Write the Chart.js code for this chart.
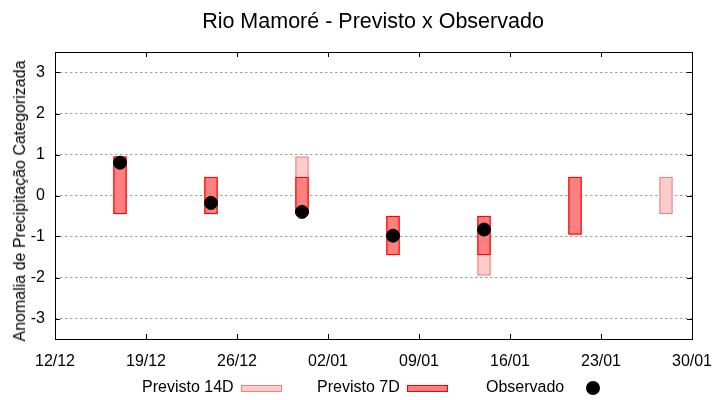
<!DOCTYPE html>
<html>
<head>
<meta charset="utf-8">
<script src="https://cdn.jsdelivr.net/npm/chart.js@4.4.1/dist/chart.umd.min.js"></script>
<style>
  html, body { margin: 0; padding: 0; background: #fff; }
  #wrap { position: relative; width: 720px; height: 400px; font-family: "Liberation Sans", Arial, sans-serif; }
  .title { position: absolute; left: 373px; top: 11px; transform: translateX(-50%); font-size: 21.5px; line-height: 21px; color: #000; white-space: nowrap; }
  .ylab { position: absolute; left: 20px; top: 201px; transform: translate(-50%, -50%) rotate(-90deg); font-size: 16px; line-height: 16px; color: #000; white-space: nowrap; }
  .lg { position: absolute; font-size: 16px; line-height: 16px; color: #000; white-space: nowrap; }
  .box { position: absolute; height: 5px; width: 39px; }
  .dot { position: absolute; width: 14px; height: 14px; border-radius: 50%; background: #000; }
</style>
</head>
<body>
<div id="wrap">
  <canvas id="chart" width="720" height="400"></canvas>
  <div class="title">Rio Mamoré - Previsto x Observado</div>
  <div class="ylab">Anomalia de Precipitação Categorizada</div>
  <span class="lg" style="left:142px; top:379px;">Previsto 14D</span>
  <div class="box" style="left:241px; top:385px; background:#ffcccc; border:1px solid #f08080;"></div>
  <span class="lg" style="left:317px; top:379px;">Previsto 7D</span>
  <div class="box" style="left:407px; top:385px; background:#ff8080; border:1px solid #ff0000;"></div>
  <span class="lg" style="left:486px; top:379px;">Observado</span>
  <div class="dot" style="left:586px; top:381px;"></div>
</div>
<script>
// x = dias desde 12/12
const tickDays = [0, 7, 14, 21, 28, 35, 42, 49];
const tickLabels = ["12/12", "19/12", "26/12", "02/01", "09/01", "16/01", "23/01", "30/01"];
const yTicks = [-3, -2, -1, 0, 1, 2, 3];

const forecastDays = [5, 12, 19, 26, 33, 40, 47];
const prev14Low = [-0.45, -0.45, -0.45, -1.45, -1.95, -0.95, -0.45];
const prev14High = [0.95, 0.45, 0.95, -0.5, -0.5, 0.45, 0.45];
const prev7Low = [-0.45, -0.45, -0.45, -1.45, -1.45, -0.95, null];
const prev7High = [0.95, 0.45, 0.45, -0.5, -0.5, 0.45, null];

const obsDays = [5, 12, 19, 26, 33];
const obsValues = [0.8, -0.18, -0.4, -0.98, -0.83];

const range = (lo, hi) => forecastDays
  .map((d, i) => ({ x: d, y: [lo[i], hi[i]] }))
  .filter(p => p.y[0] !== null);

// moldura + marcas internas (estilo gnuplot)
const frame = {
  id: "frame",
  afterDraw(chart) {
    const { ctx, chartArea: a, scales } = chart;
    ctx.save();
    ctx.strokeStyle = "#000";
    ctx.lineWidth = 1;
    ctx.beginPath();
    tickDays.forEach(d => {
      const x = Math.round(scales.x.getPixelForValue(d)) + 0.5;
      ctx.moveTo(x, a.bottom); ctx.lineTo(x, a.bottom - 5);
      ctx.moveTo(x, a.top); ctx.lineTo(x, a.top + 5);
    });
    yTicks.forEach(v => {
      const y = Math.round(scales.y.getPixelForValue(v)) + 0.5;
      ctx.moveTo(a.left, y); ctx.lineTo(a.left + 5, y);
      ctx.moveTo(a.right, y); ctx.lineTo(a.right - 5, y);
    });
    ctx.stroke();
    ctx.strokeRect(Math.round(a.left) + 0.5, Math.round(a.top) + 0.5,
      Math.round(a.right - a.left), Math.round(a.bottom - a.top));
    ctx.restore();
  }
};

const font = { family: "'Liberation Sans', Arial, sans-serif", size: 16 };

new Chart(document.getElementById("chart"), {
  type: "bar",
  data: {
    datasets: [
      {
        type: "scatter",
        label: "Observado",
        data: obsDays.map((d, i) => ({ x: d, y: obsValues[i] })),
        backgroundColor: "#000",
        borderColor: "#000",
        pointRadius: 6.5,
        borderWidth: 1,
        order: 0
      },
      {
        label: "Previsto 7D",
        data: range(prev7Low, prev7High),
        backgroundColor: "#ff8080",
        borderColor: "#ff0000",
        borderWidth: 1.3,
        borderSkipped: false,
        barThickness: 13,
        grouped: false,
        order: 1
      },
      {
        label: "Previsto 14D",
        data: range(prev14Low, prev14High),
        backgroundColor: "#ffcccc",
        borderColor: "#f08080",
        borderWidth: 1.3,
        borderSkipped: false,
        barThickness: 13,
        grouped: false,
        order: 2
      }
    ]
  },
  options: {
    responsive: false,
    animation: false,
    layout: { padding: { left: 0, right: 28, top: 52, bottom: 0 } },
    plugins: {
      legend: { display: false },
      tooltip: { enabled: false },
      title: { display: false }
    },
    scales: {
      x: {
        type: "linear",
        offset: false,
        min: 0,
        max: 49,
        afterBuildTicks: s => { s.ticks = tickDays.map(v => ({ value: v })); },
        afterFit: s => { s.height = 61; },
        ticks: {
          color: "#000",
          font: font,
          padding: 5,
          maxRotation: 0,
          callback: v => tickLabels[tickDays.indexOf(v)]
        },
        grid: { display: false, offset: false },
        border: { display: false }
      },
      y: {
        min: -3.5,
        max: 3.5,
        afterBuildTicks: s => { s.ticks = yTicks.map(v => ({ value: v })); },
        afterFit: s => { s.width = 55; },
        ticks: { color: "#000", font: font, padding: 10 },
        grid: { color: "#a0a0a0", lineWidth: 1, drawTicks: false },
        border: { display: false, dash: [2.5, 2.5] },
        title: { display: false }
      }
    }
  },
  plugins: [frame]
});
</script>
</body>
</html>
